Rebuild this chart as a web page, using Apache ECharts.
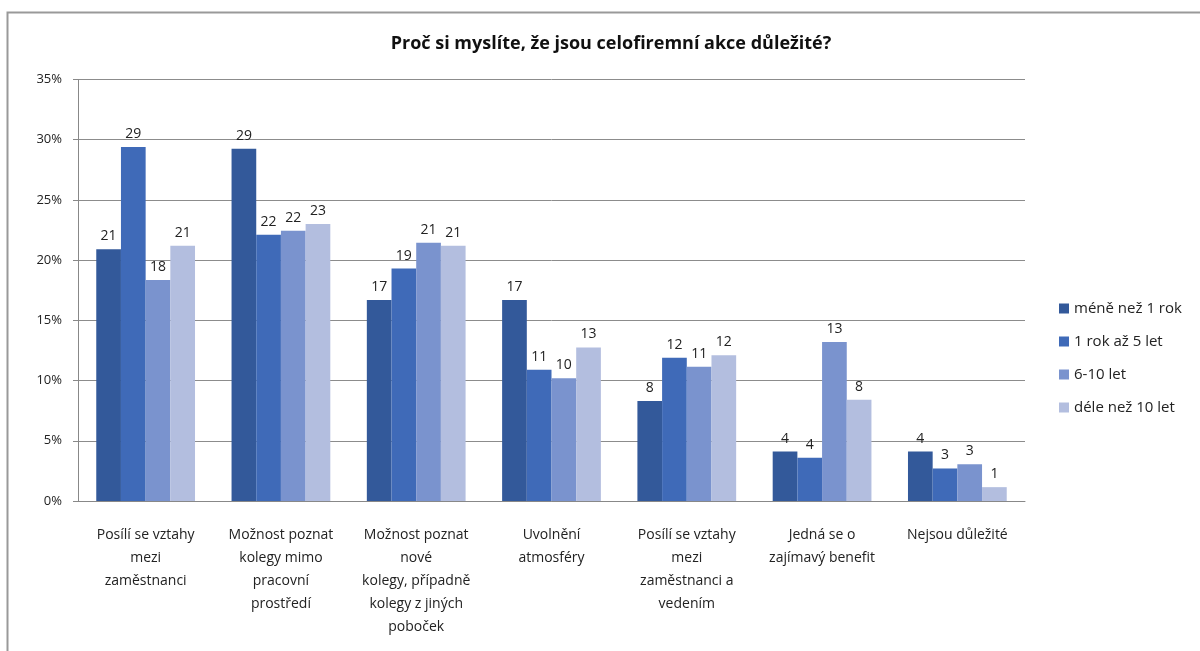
<!DOCTYPE html>
<html>
<head>
<meta charset="utf-8">
<title>Proč si myslíte, že jsou celofiremní akce důležité?</title>
<script src="https://cdn.jsdelivr.net/npm/echarts@6/dist/echarts.min.js"></script>
<style>
    html, body { margin: 0; padding: 0; background: #fff; }
    .chart_box { width: 1200px; height: 651px; }
</style>
</head>
<body>
<div class="chart_box"></div>
<script>
// kategorie (osa x)
let categories = [
    'Posílí se vztahy\nmezi\nzaměstnanci',
    'Možnost poznat\nkolegy mimo\npracovní\nprostředí',
    'Možnost poznat\nnové\nkolegy, případně\nkolegy z jiných\npoboček',
    'Uvolnění\natmosféry',
    'Posílí se vztahy\nmezi\nzaměstnanci a\nvedením',
    'Jedná se o\nzajímavý benefit',
    'Nejsou důležité'
];

// hodnoty v %
let lessThan1 = [20.9, 29.25, 16.7, 16.7, 8.3, 4.1, 4.1];
let from1to5 = [29.4, 22.1, 19.3, 10.9, 11.9, 3.6, 2.7];
let from6to10 = [18.35, 22.45, 21.45, 10.2, 11.15, 13.2, 3.05];
let moreThan10 = [21.2, 23.0, 21.2, 12.75, 12.1, 8.4, 1.15];

let seriesNames = ['méně než 1 rok', '1 rok až 5 let', '6-10 let', 'déle než 10 let'];
let yTicks = [0, 5, 10, 15, 20, 25, 30, 35];

window.addEventListener('load', function() {
    let myChart = echarts.init(document.querySelector('.chart_box'));
    let font = '"Open Sans", "Noto Sans", sans-serif';
    let values = [lessThan1, from1to5, from6to10, moreThan10];

    let series = seriesNames.map(function(name, i) {
        return {
            name: name,
            type: 'bar',
            barGap: '0%',
            barCategoryGap: '27%',
            data: values[i],
            label: {
                show: true,
                position: 'top',
                distance: 6,
                color: '#222',
                fontSize: 14,
                fontFamily: font,
                formatter: function(p) {
                    return Math.round(p.value);
                }
            }
        };
    });

    let option = {
        animation: false,
        color: ['#33599A', '#3F6AB8', '#7A93CE', '#B3BEDF'],
        title: {
            text: 'Proč si myslíte, že jsou celofiremní akce důležité?',
            left: 606,
            top: 30,
            textAlign: 'center',
            textStyle: {
                fontFamily: font,
                fontSize: 18,
                fontWeight: 'bold',
                color: '#111'
            }
        },
        legend: {
            orient: 'vertical',
            left: 1054,
            top: 296,
            itemWidth: 10,
            itemHeight: 10,
            itemGap: 18,
            icon: 'rect',
            textStyle: {
                fontFamily: font,
                fontSize: 15,
                color: '#222'
            },
            data: seriesNames
        },
        grid: {
            left: 78,
            right: 175,
            top: 79.5,
            bottom: 150
        },
        xAxis: {
            type: 'category',
            data: categories,
            axisLine: {
                lineStyle: { color: '#888' }
            },
            axisTick: {
                length: 5,
                lineStyle: { color: '#888' }
            },
            axisLabel: {
                interval: 0,
                margin: 23,
                fontFamily: font,
                fontSize: 14,
                lineHeight: 23,
                color: '#222'
            }
        },
        yAxis: {
            type: 'value',
            min: yTicks[0],
            max: yTicks[yTicks.length - 1],
            interval: 5,
            axisLine: {
                show: true,
                lineStyle: { color: '#888' }
            },
            axisTick: {
                show: true,
                length: 5,
                lineStyle: { color: '#888' }
            },
            axisLabel: {
                margin: 16,
                fontFamily: font,
                fontSize: 13,
                color: '#222',
                formatter: '{value}%'
            },
            splitLine: {
                lineStyle: { color: '#8c8c8c' }
            }
        },
        graphic: [{
            type: 'rect',
            shape: { x: 7.5, y: 12.5, width: 1300, height: 800 },
            style: { fill: 'none', stroke: '#999', lineWidth: 2 }
        }],
        series: series
    };

    myChart.setOption(option);
});
</script>
</body>
</html>
